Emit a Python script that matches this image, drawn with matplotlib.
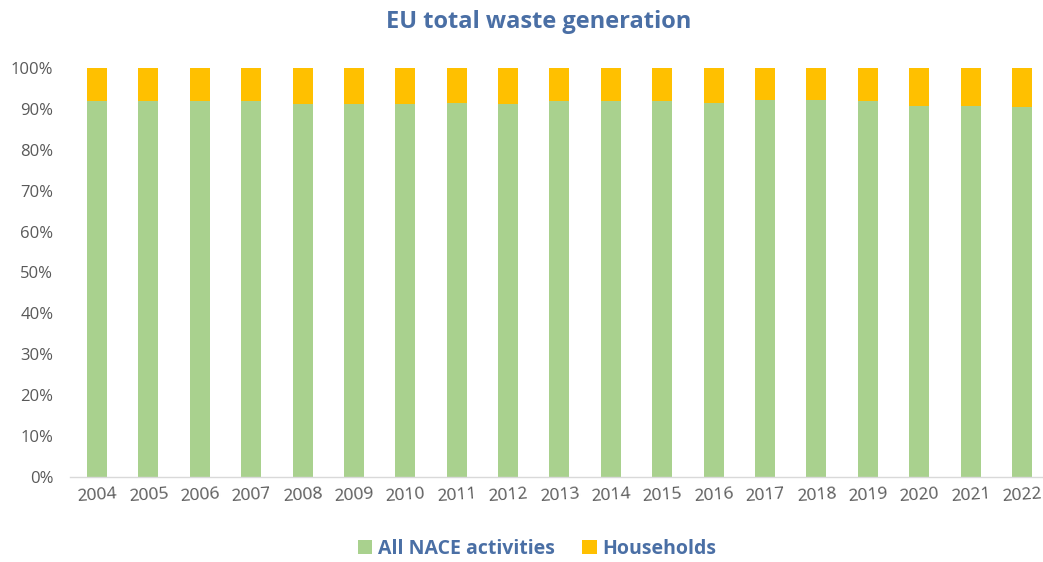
import matplotlib
matplotlib.use("Agg")
import matplotlib.pyplot as plt
import numpy as np

years = [str(y) for y in range(2004, 2023)]
nace = [92.0, 91.9, 91.9, 91.9, 91.2, 91.1, 91.3, 91.4, 91.3, 92.0,
        91.9, 91.9, 91.5, 92.1, 92.1, 92.0, 90.6, 90.8, 90.5]
households = [round(100 - v, 1) for v in nace]

green = "#A9D18E"
yellow = "#FFC000"
blue = "#4A6FA5"
gray = "#595959"

plt.rcParams['font.family'] = ['Open Sans', 'DejaVu Sans']

fig = plt.figure(figsize=(10.43, 5.62), dpi=100)
ax = fig.add_axes([70/1043, 1 - 477/562, (1043-70)/1043, (477-68)/562])

x = np.arange(len(years))
ax.bar(x, nace, width=0.39, color=green, label="All NACE activities")
ax.bar(x, households, width=0.39, bottom=nace, color=yellow, label="Households")

ax.set_ylim(0, 100)
ax.set_xlim(-0.525, 18.41)
ax.set_yticks(np.arange(0, 101, 10))
ax.set_yticklabels([f"{v}%" for v in range(0, 101, 10)], color=gray, fontsize=12)
ax.set_xticks(x)
ax.set_xticklabels(years, color=gray, fontsize=12.5, rotation=4)
ax.tick_params(axis='both', length=0)
ax.tick_params(axis='y', pad=12)
ax.tick_params(axis='x', pad=7)
for s in ['top', 'right', 'left']:
    ax.spines[s].set_visible(False)
ax.spines['bottom'].set_color("#D9D9D9")
ax.spines['bottom'].set_linewidth(1)

fig.text(539/1043, 1 - 22/562, "EU total waste generation", ha='center', va='center',
         fontsize=17, fontweight='bold', color=blue)

leg = fig.legend(loc='center', bbox_to_anchor=(537/1043, 1 - 549/562), ncol=2, frameon=False,
                 handlelength=0.75, handleheight=0.75, handletextpad=0.3, columnspacing=1.4,
                 prop={'size': 14, 'weight': 'bold'})
for t in leg.get_texts():
    t.set_color(blue)

fig.savefig("out.png", dpi=100)
